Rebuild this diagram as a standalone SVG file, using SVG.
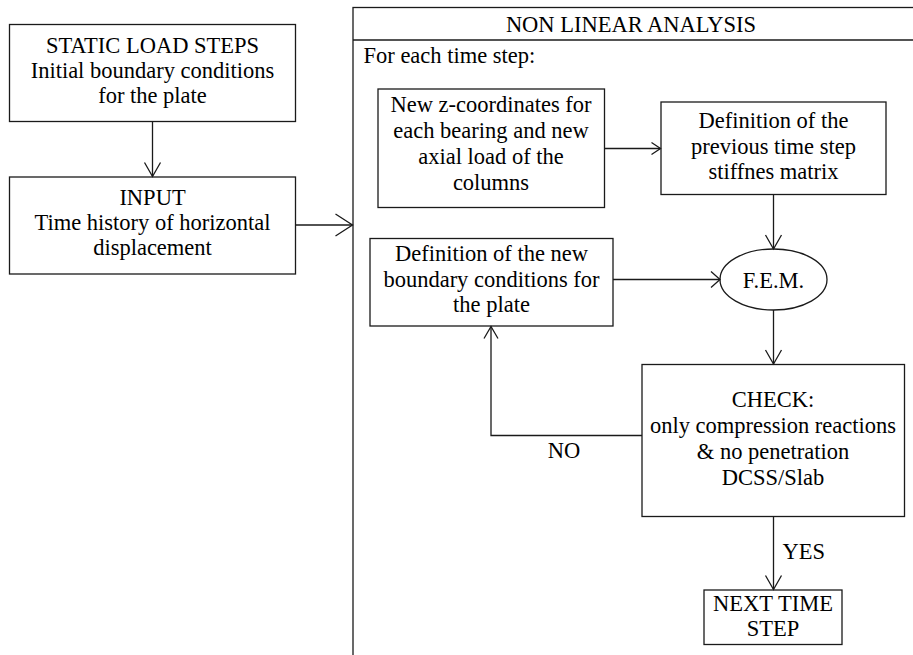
<svg xmlns="http://www.w3.org/2000/svg" width="913" height="655" viewBox="0 0 913 655">
<style>
text{font-family:"Liberation Serif","Times New Roman",serif;font-size:22.5px;fill:#000;text-anchor:middle}
.box{fill:#fff;stroke:#1a1a1a;stroke-width:1.3}
.ln{fill:none;stroke:#1a1a1a;stroke-width:1.3}
.lft{text-anchor:start}
</style>
<defs>
<marker id="aM" viewBox="-16 -10 18 20" refX="0" refY="0" markerWidth="18" markerHeight="20" markerUnits="userSpaceOnUse" orient="auto"><path d="M-14,-8 L0,0 L-14,8" fill="none" stroke="#1a1a1a" stroke-width="1.3"/></marker>
<marker id="aL" viewBox="-19 -13 21 26" refX="0" refY="0" markerWidth="21" markerHeight="26" markerUnits="userSpaceOnUse" orient="auto"><path d="M-17,-11 L0,0 L-17,11" fill="none" stroke="#1a1a1a" stroke-width="1.3"/></marker>
<marker id="aS" viewBox="-11 -8 13 16" refX="0" refY="0" markerWidth="13" markerHeight="16" markerUnits="userSpaceOnUse" orient="auto"><path d="M-9,-6 L0,0 L-9,6" fill="none" stroke="#1a1a1a" stroke-width="1.3"/></marker>
<marker id="aW" viewBox="-11 -10 13 20" refX="0" refY="0" markerWidth="13" markerHeight="20" markerUnits="userSpaceOnUse" orient="auto"><path d="M-9,-8 L0,0 L-9,8" fill="none" stroke="#1a1a1a" stroke-width="1.3"/></marker>
<marker id="aU" viewBox="-14 -9 16 18" refX="0" refY="0" markerWidth="16" markerHeight="18" markerUnits="userSpaceOnUse" orient="auto"><path d="M-12,-7 L0,0 L-12,7" fill="none" stroke="#1a1a1a" stroke-width="1.3"/></marker>
</defs>
<rect width="913" height="655" fill="#fff"/>

<g id="container">
<rect class="box" x="353" y="7.5" width="600" height="670"/>
<line class="ln" x1="353" y1="40" x2="913" y2="40"/>
<text x="631" y="32">NON LINEAR ANALYSIS</text>
<text class="lft" x="363.5" y="63">For each time step:</text>
</g>

<g id="static">
<rect class="box" x="9.5" y="24.5" width="286" height="97"/>
<text x="152.5" y="53">STATIC LOAD STEPS</text>
<text x="152.5" y="78">Initial boundary conditions</text>
<text x="152.5" y="103">for the plate</text>
</g>

<g id="input">
<rect class="box" x="9.5" y="177" width="286" height="97"/>
<text x="152.5" y="205">INPUT</text>
<text x="152.5" y="230">Time history of horizontal</text>
<text x="152.5" y="255">displacement</text>
</g>

<g id="newz">
<rect class="box" x="378" y="89" width="226.5" height="118.5"/>
<text x="491" y="112">New z-coordinates for</text>
<text x="491" y="138">each bearing and new</text>
<text x="491" y="164">axial load of the</text>
<text x="491" y="190">columns</text>
</g>

<g id="prev">
<rect class="box" x="661" y="102" width="225" height="92.5"/>
<text x="773.5" y="128">Definition of the</text>
<text x="773.5" y="153.5">previous time step</text>
<text x="773.5" y="179">stiffnes matrix</text>
</g>

<g id="newbc">
<rect class="box" x="370" y="238.5" width="243" height="87.5"/>
<text x="491.5" y="261">Definition of the new</text>
<text x="491.5" y="287">boundary conditions for</text>
<text x="491.5" y="312">the plate</text>
</g>

<g id="fem">
<ellipse class="box" cx="773.5" cy="279.5" rx="53.5" ry="30.5"/>
<text x="773.5" y="287.5">F.E.M.</text>
</g>

<g id="check">
<rect class="box" x="642" y="364.5" width="262.5" height="152"/>
<text x="773" y="407">CHECK:</text>
<text x="773" y="433">only compression reactions</text>
<text x="773" y="459">&amp; no penetration</text>
<text x="773" y="485">DCSS/Slab</text>
</g>

<g id="next">
<rect class="box" x="704" y="590" width="138" height="54.5"/>
<text x="773" y="611">NEXT TIME</text>
<text x="773" y="636">STEP</text>
</g>

<g id="connectors">
<line class="ln" x1="152.5" y1="121.5" x2="152.5" y2="176.5" marker-end="url(#aM)"/>
<line class="ln" x1="295.5" y1="225" x2="352.5" y2="225" marker-end="url(#aL)"/>
<line class="ln" x1="604.5" y1="148.5" x2="660.5" y2="148.5" marker-end="url(#aS)"/>
<line class="ln" x1="773.5" y1="194.5" x2="773.5" y2="249" marker-end="url(#aM)"/>
<line class="ln" x1="613" y1="279.5" x2="720" y2="279.5" marker-end="url(#aW)"/>
<line class="ln" x1="773.5" y1="310" x2="773.5" y2="364" marker-end="url(#aM)"/>
<polyline class="ln" points="642,435.5 491,435.5 491,326.5" marker-end="url(#aU)"/>
<line class="ln" x1="773.5" y1="516.5" x2="773.5" y2="589.5" marker-end="url(#aM)"/>
<text x="564" y="458">NO</text>
<text class="lft" x="782.5" y="559">YES</text>
</g>
</svg>
